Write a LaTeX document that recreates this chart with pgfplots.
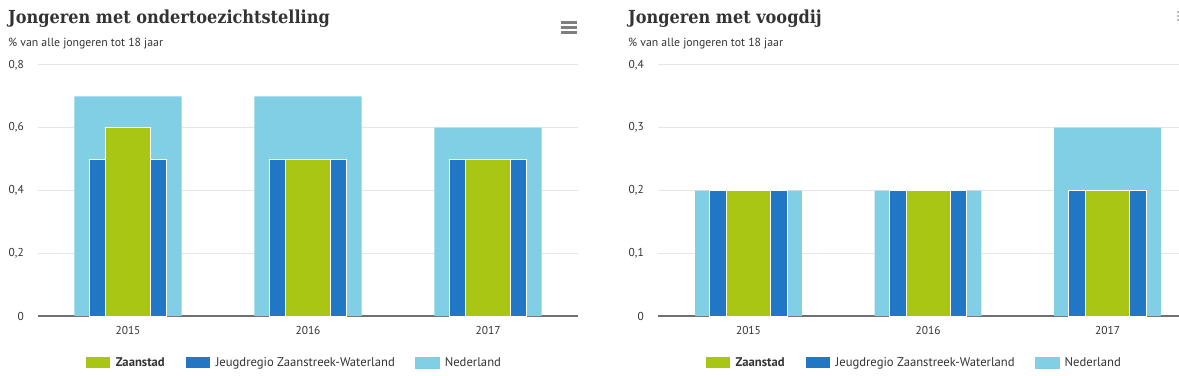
\documentclass[border=0pt]{standalone}
\usepackage{pgfplots}
\pgfplotsset{compat=1.18}
\usepackage{fontspec}
\setmainfont{PT Sans}
\newfontfamily\titlefont{DejaVu Serif Condensed}
\definecolor{zaan}{HTML}{A9C614}
\definecolor{jeugd}{HTML}{2177C5}
\definecolor{ned}{HTML}{80CFE5}
\definecolor{gridc}{HTML}{E6E6E6}
\definecolor{basec}{HTML}{707070}
\definecolor{txt}{HTML}{333333}

\pgfplotsset{
  mybars/.style={
    scale only axis,
    anchor=south west,
    height=251bp,
    ymin=0,
    axis lines*=left,
    x axis line style={basec, line width=2bp, -},
    y axis line style={draw=none},
    major tick length=0pt,
    ymajorgrids,
    grid style={gridc, line width=1bp},
    xtick={0,1,2},
    xticklabels={2015,2016,2017},
    tick label style={font=\fontsize{11.5}{13}\selectfont, text=txt},
    x tick label style={inner sep=0pt, yshift=-10bp},
    y tick label style={inner sep=0pt, xshift=-14bp},
    /pgf/number format/.cd, use comma, fixed, precision=1, assume math mode=true,
    /pgfplots/.cd,
    legend columns=3,
    reverse legend,
    legend image code/.code={\fill[##1] (0bp,-6bp) rectangle (25bp,6bp);},
    legend style={draw=none, fill=none, anchor=center,
      font=\fontsize{12.7}{15}\selectfont, text=txt,
      nodes={inner sep=0pt},
      /tikz/every odd column/.append style={column sep=5bp},
      /tikz/every even column/.append style={column sep=20bp}},
  },
  ned/.style={ybar, bar width=0.595, bar shift=0pt, fill=ned, draw=none},
  jeu/.style={ybar, bar width=0.43, bar shift=0pt, fill=jeugd, draw=white, line width=1bp},
  zaa/.style={ybar, bar width=0.245, bar shift=0pt, fill=zaan, draw=white, line width=1bp},
}

\begin{document}
\begin{tikzpicture}[x=1bp,y=1bp]
\useasboundingbox (0,0) rectangle (1179,375);

% ---------- left chart ----------
\node[anchor=base west, inner sep=0pt, text=txt] at (8,352)
  {\titlefont\bfseries\fontsize{18}{21}\selectfont Jongeren met ondertoezichtstelling};
\node[anchor=base west, inner sep=0pt, text=txt] at (8,329)
  {\fontsize{11.8}{14}\selectfont \% van alle jongeren tot 18 jaar};
\fill[basec!90] (561,350.5) rectangle (577,353.5);
\fill[basec!90] (561,345.5) rectangle (577,348.5);
\fill[basec!90] (561,340.5) rectangle (577,343.5);

\begin{axis}[mybars, at={(38bp,59bp)}, width=540bp,
  xmin=-0.5, xmax=2.5, ymax=0.8, ytick={0,0.2,0.4,0.6,0.8},
  legend style={at={(0.472,-0.187)}}]
\addplot[ned] coordinates {(0,0.7) (1,0.7) (2,0.6)};
\addplot[jeu] coordinates {(0,0.5) (1,0.5) (2,0.5)};
\addplot[zaa] coordinates {(0,0.6) (1,0.5) (2,0.5)};
\legend{Nederland, Jeugdregio Zaanstreek-Waterland, \textbf{Zaanstad}}
\end{axis}

% ---------- right chart ----------
\node[anchor=base west, inner sep=0pt, text=txt] at (628,352)
  {\titlefont\bfseries\fontsize{18}{21}\selectfont Jongeren met voogdij};
\node[anchor=base west, inner sep=0pt, text=txt] at (628,329)
  {\fontsize{11.8}{14}\selectfont \% van alle jongeren tot 18 jaar};
\fill[gridc!80!black] (1177,362) rectangle (1179,363.5);
\fill[gridc!80!black] (1177,358) rectangle (1179,359.5);
\fill[gridc!80!black] (1177,354) rectangle (1179,355.5);

\begin{axis}[mybars, at={(658bp,59bp)}, width=521bp,
  xmin=-0.504, xmax=2.398, ymax=0.4, ytick={0,0.1,0.2,0.3,0.4},
  legend style={at={(0.489,-0.187)}}]
\addplot[ned] coordinates {(0,0.2) (1,0.2) (2,0.3)};
\addplot[jeu] coordinates {(0,0.2) (1,0.2) (2,0.2)};
\addplot[zaa] coordinates {(0,0.2) (1,0.2) (2,0.2)};
\legend{Nederland, Jeugdregio Zaanstreek-Waterland, \textbf{Zaanstad}}
\end{axis}
\end{tikzpicture}
\end{document}
